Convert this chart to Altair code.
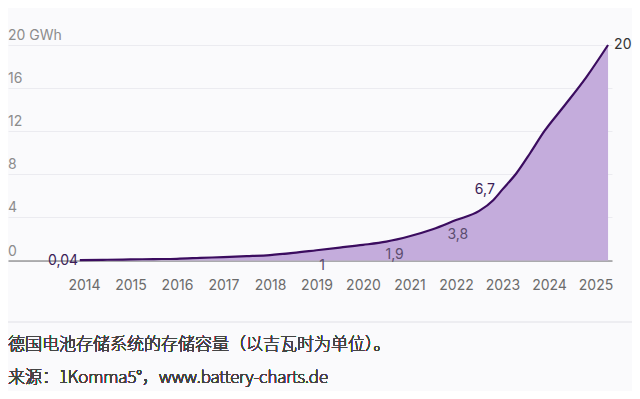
import altair as alt
import pandas as pd

# Series: German home battery storage capacity (GWh)
years = [2013.91, 2014.5, 2015.0, 2015.5, 2016.0, 2016.5, 2017.0, 2017.5, 2018.0, 2018.5,
         2019.0, 2019.5, 2020.0, 2020.5, 2021.0, 2021.5, 2022.0, 2022.5, 2022.8, 2023.0,
         2023.3, 2023.6, 2023.9, 2024.3, 2024.8, 2025.27]
values = [0.04, 0.07, 0.10, 0.13, 0.16, 0.24, 0.32, 0.40, 0.50, 0.70,
          0.95, 1.20, 1.45, 1.75, 2.25, 2.90, 3.75, 4.60, 5.60, 6.60,
          8.10, 10.0, 12.0, 14.2, 17.0, 20.0]

x_ticks = list(range(2014, 2026))
y_ticks = [0, 4, 8, 12, 16, 20]
y_tick_labels = ["0", "4", "8", "12", "16", "20 GWh"]

# Value annotations
dark_ann_years = [2013.55, 2022.62]
dark_ann_values = [0.0, 6.5]
dark_ann_texts = ["0,04", "6,7"]

muted_ann_years = [2019.12, 2020.68, 2022.04]
muted_ann_values = [-0.55, 0.55, 2.35]
muted_ann_texts = ["1", "1,9", "3,8"]

end_ann_years = [2025.4]
end_ann_values = [20.0]
end_ann_texts = ["20"]

caption_line1 = "德国电池存储系统的存储容量（以吉瓦时为单位）。"
caption_line2 = "来源：1Komma5°，www.battery-charts.de"

FONT = "Inter"
CJK_FONT = "Noto Sans CJK SC"

series = pd.DataFrame({"year": years, "value": values})
ticks_df = pd.DataFrame({"v": y_ticks, "label": y_tick_labels})
dark_df = pd.DataFrame({"year": dark_ann_years, "value": dark_ann_values, "t": dark_ann_texts})
muted_df = pd.DataFrame({"year": muted_ann_years, "value": muted_ann_values, "t": muted_ann_texts})
end_df = pd.DataFrame({"year": end_ann_years, "value": end_ann_values, "t": end_ann_texts})

x_scale = alt.Scale(domain=[2012.366, 2025.355], nice=False, zero=False)
y_scale = alt.Scale(domain=[0, 20], nice=False)

x_enc = alt.X("year:Q", scale=x_scale,
              axis=alt.Axis(values=x_ticks, format="d", title=None, grid=False, ticks=False,
                            domain=True, domainColor="#6a6a6a", domainWidth=1,
                            labelColor="#6b6b6b", labelFontSize=14, labelFont=FONT,
                            labelPadding=18, labelFlush=False))
y_enc = alt.Y("value:Q", scale=y_scale,
              axis=alt.Axis(values=y_ticks, title=None, labels=False, ticks=False, domain=False,
                            grid=True, gridColor="#ebebf0", gridWidth=1.2))

area = alt.Chart(series).mark_area(color="#c4acdc", opacity=1, interpolate="monotone").encode(
    x=x_enc, y=y_enc)
line = alt.Chart(series).mark_line(color="#3b0c5f", strokeWidth=2.2, interpolate="monotone").encode(
    x=alt.X("year:Q", scale=x_scale), y=alt.Y("value:Q", scale=y_scale))

ylabels = alt.Chart(ticks_df).mark_text(align="left", baseline="middle", dy=-9, fontSize=14,
                                        font=FONT, color="#8c8c8c").encode(
    x=alt.value(0), y=alt.Y("v:Q", scale=y_scale), text="label:N")

dark = alt.Chart(dark_df).mark_text(align="center", baseline="middle", fontSize=14, font=FONT,
                                    color="#3a1d57").encode(
    x=alt.X("year:Q", scale=x_scale), y=alt.Y("value:Q", scale=y_scale), text="t:N")
muted = alt.Chart(muted_df).mark_text(align="center", baseline="middle", fontSize=14, font=FONT,
                                      color="#5b4c6e").encode(
    x=alt.X("year:Q", scale=x_scale), y=alt.Y("value:Q", scale=y_scale), text="t:N")
end = alt.Chart(end_df).mark_text(align="left", baseline="middle", fontSize=14, font=FONT,
                                  color="#333333").encode(
    x=alt.X("year:Q", scale=x_scale), y=alt.Y("value:Q", scale=y_scale), text="t:N")

sep = alt.Chart(series).mark_rule(color="#ececf0", strokeWidth=1.5).encode(
    x=alt.value(0), x2=alt.value(624), y=alt.value(277))
cap1 = alt.Chart(series).mark_text(text=caption_line1, align="left", baseline="middle",
                                   fontSize=17, font=CJK_FONT, fontWeight=100,
                                   color="#444444").encode(
    x=alt.value(0), y=alt.value(300))
cap2 = alt.Chart(series).mark_text(text=caption_line2, align="left", baseline="middle",
                                   fontSize=17, font=CJK_FONT, fontWeight=100,
                                   color="#444444").encode(
    x=alt.value(0), y=alt.value(333))

chart = alt.layer(area, line, ylabels, dark, muted, end, sep, cap1, cap2).properties(
    width=604, height=215.5,
    autosize=alt.AutoSizeParams(type="none"),
    padding={"left": 0, "top": 37, "right": 20, "bottom": 130},
    background="#fafafc",
).configure_view(stroke=None)

chart.save("out.html", embed_options={"renderer": "svg", "actions": False})
